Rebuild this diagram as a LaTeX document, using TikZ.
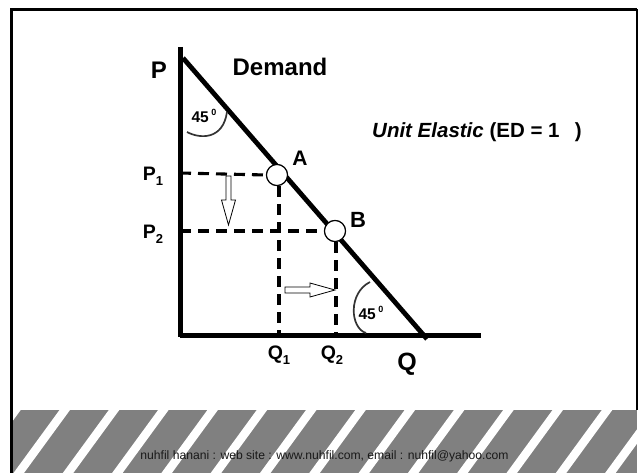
\documentclass[tikz,border=0pt]{standalone}
\usepackage{fontspec}
\setmainfont{Liberation Sans}
\newcommand{\fs}[1]{\fontsize{#1}{#1}\selectfont}
\begin{document}
\begin{tikzpicture}[x=1pt,y=-1pt,
  lab/.style={inner sep=0pt, font=\bfseries},
  axisline/.style={line width=5pt},
  demandline/.style={line width=4.8pt},
  dashline/.style={line width=3.1pt, dash pattern=on 11pt off 7pt},
  ptcircle/.style={circle, draw, fill=white, line width=1.1pt, minimum size=21pt, inner sep=0pt},
  hollow/.style={draw, fill=white, line width=0.8pt, line join=miter},
  anglearc/.style={line width=1.7pt, draw=black!80}
]
% canvas
\fill[white] (0,0) rectangle (639,473);
\useasboundingbox (0,0) rectangle (639,473);
% footer band
\fill[black!50] (12,410) rectangle (637,473);
\begin{scope}
  \clip (12,410) rectangle (637,473);
  \foreach \k in {-1,0,...,13} {
    \pgfmathsetmacro{\xa}{59.5+49.3*\k}
    \fill[white] (\xa,410) -- (\xa+10.5,410) -- (\xa+10.5-46,473) -- (\xa-46,473) -- cycle;
  }
\end{scope}
\node[inner sep=0pt, font=\fs{12.15}, text=black!90, anchor=base] (footer) at (324.5,459)
  {nuhfil hanani : web site : www.nuhfil.com, email : nuhfil@yahoo.com};
% frame
\draw[line width=3pt] (11,473) -- (11,9.5) -- (637,9.5);
\draw[line width=1.5pt] (637,9.5) -- (637,410);
% coordinates
\coordinate (ytop) at (180,47);
\coordinate (ybot) at (180,337);
\coordinate (xl) at (180,335);
\coordinate (xr) at (481,335);
\coordinate (dtop) at (183,58);
\coordinate (dbot) at (427,339);
\coordinate (p1) at (180,173);
\coordinate (p2) at (180,231);
\coordinate (q1) at (279,333);
\coordinate (q2) at (336,333);
% dashed lines
\node[ptcircle] (ptA) at (277,175) {};
\node[ptcircle] (ptB) at (335,231) {};
\draw[dashline] (p1) -- (ptA.west);
\draw[dashline] (p2) -- (ptB.west);
\draw[dashline] (ptA.south -| q1) -- (q1);
\draw[dashline] (ptB.south -| q2) -- (q2);
% axes and demand
\draw[axisline] (ytop) -- (ybot);
\draw[axisline] (xl) -- (xr);
\draw[demandline] (dtop) -- (dbot);
\node[ptcircle] at (ptA) {};
\node[ptcircle] at (ptB) {};
% hollow arrows
\draw[hollow] (226,176) -- (231,176) -- (231,200) -- (235.5,200) -- (228.5,225) -- (221.5,200) -- (226,200) -- cycle;
\draw[hollow] (285,287) -- (310,287) -- (310,283) -- (335,290) -- (310,297) -- (310,293) -- (285,293) -- cycle;
% angle arcs
\draw[anglearc] (187,132) .. controls (200,139) and (223,140) .. (227,112);
\draw[anglearc] (370,282) .. controls (348,293) and (350,328) .. (366,333);
% labels
\node[lab, font=\bfseries\fs{24}] (labP) at (159,70) {P};
\node[lab, font=\bfseries\fs{24}] (labD) at (280,67) {Demand};
\node[lab, font=\bfseries\fs{15.5}] (ang1) at (204,116) {45\,\raisebox{0.45em}{\fs{9}0}};
\node[lab, font=\bfseries\fs{15.5}] (ang2) at (371,313) {45\,\raisebox{0.45em}{\fs{9}0}};
\node[lab, font=\bfseries\fs{21}] (labA) at (300,158) {A};
\node[lab, font=\bfseries\fs{22}] (labB) at (358,220) {B};
\node[lab, font=\bfseries\fs{19.5}, anchor=base] (labP1) at (153,180) {P\raisebox{-0.3em}{\fs{13}1}};
\node[lab, font=\bfseries\fs{19.5}, anchor=base] (labP2) at (153,238) {P\raisebox{-0.3em}{\fs{13}2}};
\node[lab, font=\bfseries\fs{19.5}, anchor=base] (labQ1) at (279,359) {Q\raisebox{-0.3em}{\fs{13}1}};
\node[lab, font=\bfseries\fs{19.5}, anchor=base] (labQ2) at (332,359) {Q\raisebox{-0.3em}{\fs{13}2}};
\node[lab, font=\bfseries\fs{25}] (labQ) at (407,364) {Q};
\node[lab, font=\bfseries\fs{20.5}, anchor=west] (ue) at (372,132) {\itshape Unit Elastic\/\upshape\ (ED = 1\hspace{0.75em})};
\end{tikzpicture}
\end{document}
